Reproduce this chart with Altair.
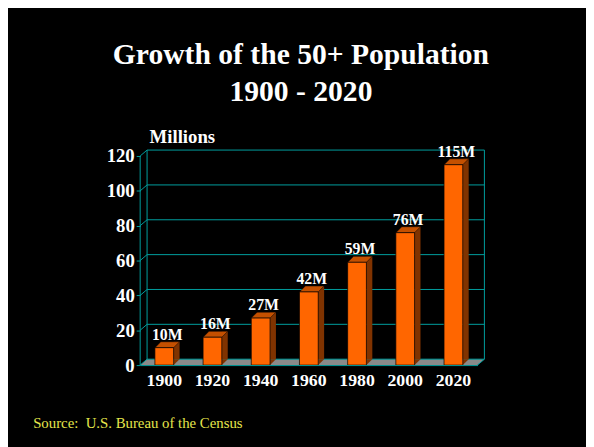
import altair as alt
import pandas as pd

# ---- data ----
years = ["1900", "1920", "1940", "1960", "1980", "2000", "2020"]
values = [10, 16, 27, 42, 59, 76, 115]
labels = ["10M", "16M", "27M", "42M", "59M", "76M", "115M"]
y_ticks = [0, 20, 40, 60, 80, 100, 120]

title_lines = ["Growth of the 50+ Population", "1900 - 2020"]
y_title = "Millions"
source = "Source:\u00a0 U.S. Bureau of the Census"

# ---- styles ----
SERIF = "Liberation Serif"
ORANGE = "#FF6600"
TOPC = "#C45000"
BROWN = "#803300"
TEAL = "#00A0A0"
FLOORC = "#8A8A8A"
YELLOW = "#E6E64C"

W, H = 342, 218
WALL_DX, WALL_DY = 7, 6
BAR_W, BAR_D = 19, 6

bars_df = pd.DataFrame({"year": years, "value": values, "label": labels})
ticks_df = pd.DataFrame({"v": y_ticks})
frame_df = pd.DataFrame({"lo": [min(y_ticks)], "hi": [max(y_ticks)]})

xs = alt.Scale(paddingInner=0.6, paddingOuter=0.3)
ys = alt.Scale(domain=[0, 123.4], nice=False, zero=True)

xaxis = alt.Axis(
    labelFont=SERIF, labelFontSize=18, labelFontWeight="bold", labelColor="white",
    labelAngle=0, labelPadding=7, ticks=False, domainColor=TEAL, domainWidth=1,
    title=source, titleFont=SERIF, titleFontSize=15, titleFontWeight="normal",
    titleColor=YELLOW, titleX=-109, titleY=63, titleAlign="left",
    titleBaseline="alphabetic", zindex=1,
)
yaxis = alt.Axis(
    values=y_ticks, grid=False, domain=False, tickColor=TEAL, tickSize=4,
    labelFont=SERIF, labelFontSize=19, labelFontWeight="bold", labelColor="white",
    labelPadding=2, title=y_title, titleAngle=0, titleAlign="left",
    titleBaseline="alphabetic", titleX=9, titleY=-8, titleFont=SERIF,
    titleFontSize=19, titleFontWeight="bold", titleColor="white",
)


def X():
    return alt.X("year:O", scale=xs, axis=xaxis)


def Y(field):
    return alt.Y(field, scale=ys, axis=yaxis)


# floor parallelogram path (unit box scaled by sqrt(size)/2)
fw = W + WALL_DX
s = fw / 2
fy = (WALL_DY / 2) / s
fx = (W / s) - 1
FLOOR_PATH = f"M -1 {fy:.5f} L {fx:.5f} {fy:.5f} L 1 {-fy:.5f} L {-fx:.5f} {-fy:.5f} Z"

tw = BAR_W + BAR_D
ts = tw / 2
ty = (BAR_D / 2) / ts
tx = (BAR_W / ts) - 1
TOP_PATH = f"M -1 {ty:.5f} L {tx:.5f} {ty:.5f} L 1 {-ty:.5f} L {-tx:.5f} {-ty:.5f} Z"
TRI_PATH = "M -1 -1 L 1 -1 L -1 1 Z"

floor = alt.Chart(frame_df).mark_point(
    shape=FLOOR_PATH, size=fw * fw, filled=True, fill=FLOORC, opacity=1,
    strokeWidth=0, yOffset=-WALL_DY / 2,
).encode(x=alt.value(fw / 2), y=Y("lo:Q"))

grid = alt.Chart(ticks_df).mark_rule(color=TEAL, strokeWidth=1, yOffset=-WALL_DY).encode(
    y=Y("v:Q"), x=alt.value(WALL_DX), x2=alt.value(W + WALL_DX)
)
conn = alt.Chart(ticks_df).mark_rule(color=TEAL, strokeWidth=1, y2Offset=-WALL_DY).encode(
    y=Y("v:Q"), y2=alt.Y2("v:Q"), x=alt.value(0), x2=alt.value(WALL_DX)
)
front_axis = alt.Chart(frame_df).mark_rule(color=TEAL, strokeWidth=1).encode(
    x=alt.value(0), y=Y("lo:Q"), y2="hi:Q"
)
back_left = alt.Chart(frame_df).mark_rule(
    color=TEAL, strokeWidth=1, yOffset=-WALL_DY, y2Offset=-WALL_DY
).encode(x=alt.value(WALL_DX), y=Y("lo:Q"), y2="hi:Q")
back_right = alt.Chart(frame_df).mark_rule(
    color=TEAL, strokeWidth=1, yOffset=-WALL_DY, y2Offset=-WALL_DY
).encode(x=alt.value(W + WALL_DX), y=Y("lo:Q"), y2="hi:Q")
floor_diag = alt.Chart(frame_df).mark_rule(color=TEAL, strokeWidth=1, y2Offset=-WALL_DY).encode(
    x=alt.value(W), x2=alt.value(W + WALL_DX), y=Y("lo:Q"), y2="lo:Q"
)

base = alt.Chart(bars_df)
side = base.transform_calculate(zero="0").mark_bar(
    width=BAR_D, xOffset=BAR_W / 2 + BAR_D / 2, yOffset=-BAR_D, y2Offset=-BAR_D,
    fill=BROWN, strokeWidth=0,
).encode(x=X(), y=Y("value:Q"), y2=alt.Y2("zero:Q"))
tri = base.transform_calculate(zero="0").mark_point(
    shape=TRI_PATH, size=BAR_D * BAR_D, filled=True, fill=BROWN, opacity=1,
    strokeWidth=0, xOffset=BAR_W / 2 + BAR_D / 2, yOffset=-BAR_D / 2,
).encode(x=X(), y=Y("zero:Q"))
top = base.mark_point(
    shape=TOP_PATH, size=tw * tw, filled=True, fill=TOPC, opacity=1,
    stroke="black", strokeWidth=0.5, xOffset=BAR_D / 2, yOffset=-BAR_D / 2,
).encode(x=X(), y=Y("value:Q"))
front = base.mark_bar(width=BAR_W, fill=ORANGE, stroke="black", strokeWidth=0.7).encode(
    x=X(), y=Y("value:Q")
)
text = base.mark_text(
    dx=3, dy=-8, baseline="alphabetic", align="center", font=SERIF,
    fontSize=16, fontWeight="bold", color="white",
).encode(x=X(), y=Y("value:Q"), text="label:N")

chart = alt.layer(
    floor, grid, conn, front_axis, back_left, back_right, floor_diag,
    side, tri, top, front, text,
).properties(
    width=W, height=H,
    autosize=alt.AutoSizeParams(type="none"),
    padding={"left": 134, "top": 141, "right": 110, "bottom": 80},
    title=alt.Title(
        title_lines, font=SERIF, fontSize=30, fontWeight="bold", color="white",
        anchor="middle", frame="group", dx=-8, offset=21, lineHeight=37,
    ),
).configure(background="black").configure_view(stroke=None)

chart.save("out.html", embed_options={"renderer": "svg", "actions": False})
